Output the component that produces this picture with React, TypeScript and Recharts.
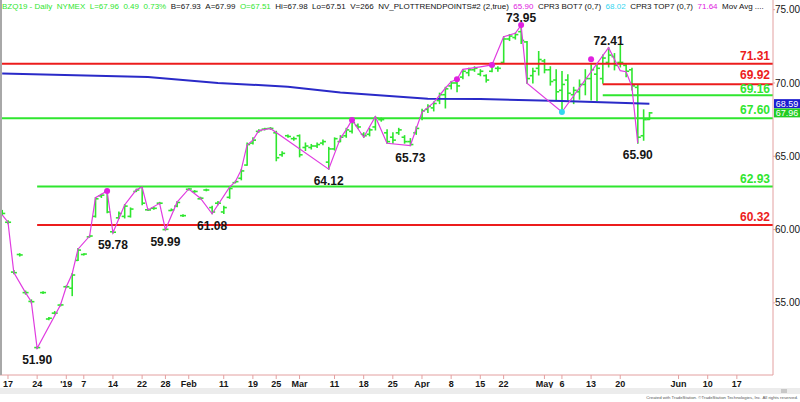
import React from "react";
import { ComposedChart, XAxis, YAxis, Bar, Line, Scatter, ReferenceLine } from "recharts";

// daily bars, index 0 = Dec 14 2018
const opens = [61.2, 60.5, 57.1, 58.3, 55.7, 55.1, 51.95, 55.7, 53.9, 54.3, 54.85, 56.1, 56.0, 57.9, 58.3, 59.5, 60.9, 62.3, 62.6, 59.85, 60.8, 60.9, 60.9, 62.6, 62.9, 61.35, 61.45, 61.8, 60.0, 61.3, 61.6, 60.95, 62.75, 62.6, 62.1, 62.7, 61.5, 61.8, 61.2, 62.2, 63.2, 63.5, 64.4, 65.9, 66.7, 66.85, 66.9, 66.6, 65.1, 66.4, 66.2, 66.4, 65.6, 65.6, 65.7, 65.9, 64.6, 65.5, 66.0, 66.4, 66.7, 67.1, 66.5, 66.5, 67.0, 67.5, 66.6, 66.3, 66.6, 66.3, 66.0, 66.6, 67.6, 68.2, 68.3, 68.8, 69.2, 69.8, 70.0, 70.4, 70.7, 70.9, 70.6, 70.5, 70.8, 71.0, 71.4, 73.0, 73.1, 73.5, 72.8, 70.5, 71.0, 71.5, 70.9, 70.2, 69.5, 70.2, 69.2, 69.4, 69.9, 70.3, 70.6, 70.3, 71.4, 71.8, 71.4, 71.2, 70.9, 69.7, 66.4, 67.51];
const highs = [61.3, 60.6, 57.2, 58.35, 55.8, 55.2, 52.0, 55.75, 54.0, 54.4, 54.9, 56.15, 57.0, 58.7, 58.35, 59.6, 62.18, 62.4, 62.63, 59.9, 61.2, 61.7, 61.47, 62.75, 62.93, 61.4, 61.5, 61.85, 60.05, 61.4, 61.9, 61.0, 62.8, 62.65, 62.2, 62.75, 61.58, 61.9, 61.58, 62.9, 63.3, 64.1, 65.9, 66.25, 66.8, 66.9, 66.95, 66.7, 65.3, 66.45, 66.3, 66.45, 65.9, 65.8, 65.9, 66.1, 65.6, 66.25, 66.4, 66.9, 67.48, 67.2, 66.6, 66.9, 67.7, 67.6, 66.8, 66.6, 66.9, 66.4, 66.2, 67.0, 68.2, 68.5, 68.7, 69.3, 69.7, 70.1, 70.25, 70.9, 71.0, 71.1, 70.9, 70.55, 71.23, 71.1, 73.16, 73.3, 73.4, 73.95, 72.82, 71.0, 72.14, 71.6, 71.1, 70.9, 70.77, 70.55, 69.7, 70.2, 70.9, 71.23, 71.2, 71.9, 72.41, 72.0, 72.6, 71.23, 71.0, 69.86, 68.16, 67.98];
const lows = [61.0, 60.4, 57.0, 58.2, 55.6, 55.0, 51.9, 55.65, 53.85, 54.25, 54.8, 56.05, 55.5, 57.9, 58.28, 59.5, 60.86, 62.2, 61.15, 59.78, 60.77, 60.8, 60.86, 62.6, 61.7, 61.3, 61.4, 61.75, 59.99, 61.3, 61.56, 60.9, 62.7, 62.55, 62.1, 62.65, 61.08, 61.7, 61.1, 62.14, 63.2, 63.4, 64.4, 65.84, 66.65, 66.8, 66.85, 64.7, 65.0, 66.3, 66.1, 64.97, 65.4, 65.5, 65.6, 65.8, 64.12, 65.43, 66.0, 66.3, 66.6, 66.9, 66.3, 66.4, 66.8, 67.4, 65.9, 65.9, 66.5, 65.9, 65.73, 66.5, 67.5, 68.0, 68.1, 68.6, 68.3, 69.6, 69.4, 70.3, 70.5, 70.8, 70.5, 70.07, 70.77, 70.8, 71.34, 72.9, 73.0, 72.7, 69.98, 70.0, 70.55, 70.7, 69.86, 68.84, 68.04, 68.84, 68.6, 68.9, 69.2, 68.84, 68.8, 69.98, 71.1, 70.9, 71.1, 70.43, 69.52, 65.9, 66.1, 67.51];
const closes = [61.1, 60.5, 57.06, 58.27, 55.7, 55.08, 51.95, 55.7, 53.95, 54.3, 54.86, 56.1, 56.9, 58.6, 58.33, 59.56, 62.1, 62.35, 61.2, 59.82, 61.1, 61.6, 61.4, 62.7, 61.8, 61.34, 61.45, 61.8, 60.02, 61.34, 61.85, 60.95, 62.77, 62.6, 62.14, 62.7, 61.2, 61.8, 61.5, 62.8, 63.27, 64.0, 65.8, 66.1, 66.75, 66.88, 66.9, 64.9, 65.2, 66.35, 66.2, 65.1, 65.7, 65.7, 65.8, 66.0, 65.5, 66.2, 66.3, 66.8, 67.3, 67.0, 66.4, 66.8, 67.6, 67.5, 66.0, 66.1, 66.8, 66.0, 65.8, 66.9, 68.1, 68.4, 68.6, 69.2, 69.6, 70.0, 69.8, 70.8, 70.9, 71.0, 70.8, 70.2, 71.2, 71.0, 73.0, 73.2, 73.3, 72.9, 70.3, 70.8, 71.6, 70.9, 70.1, 69.4, 69.9, 69.3, 69.5, 69.9, 70.3, 70.9, 71.0, 71.7, 71.9, 71.2, 71.4, 70.8, 69.8, 66.3, 67.5, 67.96];

// trend points (index, price)
const trendPoints: [number, number][] = [
  [0, 61.0], [1, 60.5], [2, 57.06], [4, 55.7], [5, 55.08], [6, 51.9], [10, 54.86], [11, 56.1],
  [12, 56.97], [13, 58.66], [15, 59.56], [16, 62.18], [18, 62.63], [19, 59.78], [21, 61.68],
  [23, 62.71], [24, 62.9], [25, 61.34], [27, 61.79], [28, 59.99], [30, 61.87], [32, 62.77],
  [34, 62.14], [36, 61.08], [39, 62.9], [40, 63.27], [41, 64.07], [42, 65.77], [43, 66.1],
  [44, 66.75], [46, 66.9], [56, 64.12], [58, 66.22], [59, 66.8], [60, 67.48], [62, 66.3],
  [64, 67.7], [66, 65.89], [70, 65.73], [72, 68.0], [74, 68.66], [76, 69.64], [77, 70.09],
  [78, 70.25], [79, 70.93], [82, 71.1], [84, 71.23], [86, 73.16], [88, 73.39], [89, 73.95],
  [90, 69.98], [96, 68.02], [104, 72.41], [106, 70.84], [107, 70.77], [108, 69.75], [109, 65.9],
];

const movAvg: [number, number][] = [
  [0, 70.65], [25, 70.41], [37, 70.0], [49, 69.75], [58, 69.35], [73, 68.93], [82, 68.91], [96, 68.77], [111, 68.59],
];

const pivots: [number, number, string][] = [
  [6, 51.9, "below"], [19, 59.78, "below"], [28, 59.99, "below"], [36, 61.08, "below"],
  [56, 64.12, "below"], [70, 65.73, "below"], [89, 73.95, "above"], [104, 72.41, "above"], [109, 65.9, "below"],
];

const markers: [number, number, string][] = [
  [18, 62.63, "#e020e0"], [60, 67.48, "#e020e0"], [78, 70.25, "#e020e0"], [84, 71.23, "#e020e0"],
  [89, 73.95, "#e020e0"], [101, 71.62, "#e020e0"], [96, 68.02, "#33d6f0"],
];

const RED = "#ec1c1c";
const GREEN = "#2fe62f";

// support / resistance lines: price, colour, first bar (null = whole chart)
const levels: [number, string, number | null][] = [
  [71.31, RED, null], [69.92, RED, 103], [69.16, GREEN, 103], [67.6, GREEN, null], [62.93, GREEN, 6], [60.32, RED, 6],
];

const lastValues: [number, string][] = [[68.59, "#1c1cd0"], [67.96, "#22cc22"]];

const dayTicks: [number, string][] = [
  [1, "17"], [6, "24"], [11, "'19"], [14, "7"], [19, "14"], [24, "22"], [28, "28"], [32, "Feb"], [38, "11"],
  [43, "19"], [47, "25"], [51, "Mar"], [57, "11"], [62, "18"], [67, "25"], [72, "Apr"], [77, "8"], [82, "15"],
  [86, "22"], [93, "May"], [96, "6"], [101, "13"], [106, "20"], [116, "Jun"], [121, "10"], [126, "17"],
];

const XMIN = -0.37;
const XMAX = 132.2;

// the two close lines on the right need their labels pushed apart
const labelNudge: Record<string, number> = { "69.92": -9, "69.16": -6 };

const trendMap = new Map(trendPoints);
const maMap = new Map(movAvg);
const rows = opens.map((o, i) => ({
  i, o, h: highs[i], l: lows[i], c: closes[i],
  zz: trendMap.get(i), ma: maMap.get(i),
}));
const pivotRows = pivots.map(([i, p, side]) => ({ i, p, side }));
const markerRows = markers.map(([i, p, color]) => ({ i, p, color }));
const tickLabel = new Map(dayTicks);

const header: [string, string][] = [
  ["BZQ19 - Daily", GREEN], ["NYMEX", GREEN], ["L=67.96", GREEN], ["0.49", GREEN], ["0.73%", GREEN],
  ["B=67.93", "#111"], ["A=67.99", "#111"], ["O=67.51", GREEN], ["Hi=67.98", "#111"], ["Lo=67.51", "#111"],
  ["V=266", "#111"], ["NV_PLOTTRENDPOINTS#2 (2,true)", "#111"], ["65.90", "#e020e0"], ["CPR3 BOT7 (0,7)", "#111"],
  ["68.02", "#33d6f0"], ["CPR3 TOP7 (0,7)", "#111"], ["71.64", "#e020e0"], ["Mov Avg ....", "#111"],
];

const OhlcBar = (props: any) => {
  const { x, y, width, height, payload } = props;
  const cx = x + width / 2;
  const top = Math.min(y, y + height);
  const span = Math.abs(height);
  const range = payload.h - payload.l || 1;
  const yo = top + ((payload.h - payload.o) / range) * span;
  const yc = top + ((payload.h - payload.c) / range) * span;
  return (
    <g stroke={GREEN} strokeWidth={1.6}>
      <line x1={cx} x2={cx} y1={top - 0.6} y2={top + span + 0.6} />
      <line x1={cx - 3} x2={cx} y1={yo} y2={yo} />
      <line x1={cx} x2={cx + 3} y1={yc} y2={yc} />
    </g>
  );
};

const PivotText = (props: any) => {
  const { cx, cy, payload } = props;
  const dy = payload.side === "above" ? -7 : 12;
  return (
    <text x={cx} y={cy + dy} textAnchor="middle" dominantBaseline="central" fontSize={12} fontWeight="bold" fill="#151515">
      {payload.p.toFixed(2)}
    </text>
  );
};

const MarkerDot = (props: any) => <circle cx={props.cx} cy={props.cy} r={3} fill={props.payload.color} />;

const LevelLabel = (props: any) => {
  const { viewBox, text, color } = props;
  const dy = labelNudge[text] ?? -8;
  return (
    <text x={viewBox.x + viewBox.width - 3} y={viewBox.y + dy} textAnchor="end" dominantBaseline="central" fontSize={12} fontWeight="bold" fill={color}>
      {text}
    </text>
  );
};

const Badge = (props: any) => {
  const { viewBox, text, color } = props;
  const left = viewBox.x + viewBox.width + 1;
  return (
    <g>
      <rect x={left} y={viewBox.y - 4.5} width={26} height={9} fill={color} />
      <text x={left + 13} y={viewBox.y + 0.5} textAnchor="middle" dominantBaseline="central" fontSize={9} fill="#fff">
        {text}
      </text>
    </g>
  );
};

export default function App() {
  return (
    <div style={{ position: "absolute", left: 0, top: 0, width: 800, height: 402, background: "#fff", fontFamily: "'Liberation Sans', Arial, sans-serif", overflow: "hidden" }}>
      <ComposedChart width={800} height={402} data={rows} margin={{ top: 0, right: 0, bottom: 0, left: 0 }}>
        <XAxis
          dataKey="i"
          type="number"
          domain={[XMIN, XMAX]}
          ticks={dayTicks.map((t) => t[0])}
          tickFormatter={(v: number) => tickLabel.get(v) ?? ""}
          height={27}
          stroke="#e3a0a0"
          tickSize={4}
          tickMargin={2}
          tick={{ fontSize: 9, fontWeight: "bold", fill: "#151515" }}
        />
        <YAxis
          orientation="right"
          type="number"
          width={27}
          domain={[50.08, 75.66]}
          allowDataOverflow
          ticks={[55, 60, 65, 70, 75]}
          tickFormatter={(v: number) => v.toFixed(2)}
          stroke="#e3a0a0"
          tickSize={2}
          tickMargin={0}
          tick={{ fontSize: 10, fill: "#151515" }}
        />
        {levels.map(([p, color, from]) => (
          <ReferenceLine
            key={p}
            ifOverflow="visible"
            segment={[{ x: from ?? XMIN, y: p }, { x: XMAX, y: p }]}
            stroke={color}
            strokeWidth={2}
            label={<LevelLabel text={p.toFixed(2)} color={color} />}
          />
        ))}
        <Line dataKey="ma" stroke="#2a2ac8" strokeWidth={2} dot={false} connectNulls isAnimationActive={false} />
        <Bar dataKey={(d: any) => [d.l, d.h]} barSize={4} shape={<OhlcBar />} isAnimationActive={false} />
        <Line dataKey="zz" stroke="#e03ce0" strokeWidth={1.2} dot={false} connectNulls isAnimationActive={false} />
        <Scatter data={markerRows} dataKey="p" shape={<MarkerDot />} isAnimationActive={false} />
        <Scatter data={pivotRows} dataKey="p" shape={<PivotText />} isAnimationActive={false} />
        {lastValues.map(([p, color]) => (
          <ReferenceLine key={p} y={p} stroke="none" ifOverflow="visible" label={<Badge text={p.toFixed(2)} color={color} />} />
        ))}
      </ComposedChart>
      <div style={{ position: "absolute", left: 0, top: 0, width: 2, height: 375, background: "#a8a8a8" }} />
      <div style={{ position: "absolute", left: 2, top: 2, width: 762, display: "flex", justifyContent: "space-between", fontSize: 8, lineHeight: "10px", whiteSpace: "nowrap" }}>
        {header.map(([t, c], k) => (
          <span key={k} style={{ color: c }}>{t}</span>
        ))}
      </div>
      <div style={{ position: "absolute", left: 0, top: 388, width: 800, height: 6, background: "#ececec" }} />
      <div style={{ position: "absolute", left: 781, top: 389, width: 6, height: 4, background: "#c8c8c8" }} />
      <svg style={{ position: "absolute", left: 0, top: 392 }} width={800} height={10}>
        <text x={798} y={7} fontSize={4.3} fill="#555" textAnchor="end">
          Created with TradeStation. ©TradeStation Technologies, Inc. All rights reserved.
        </text>
      </svg>
    </div>
  );
}
